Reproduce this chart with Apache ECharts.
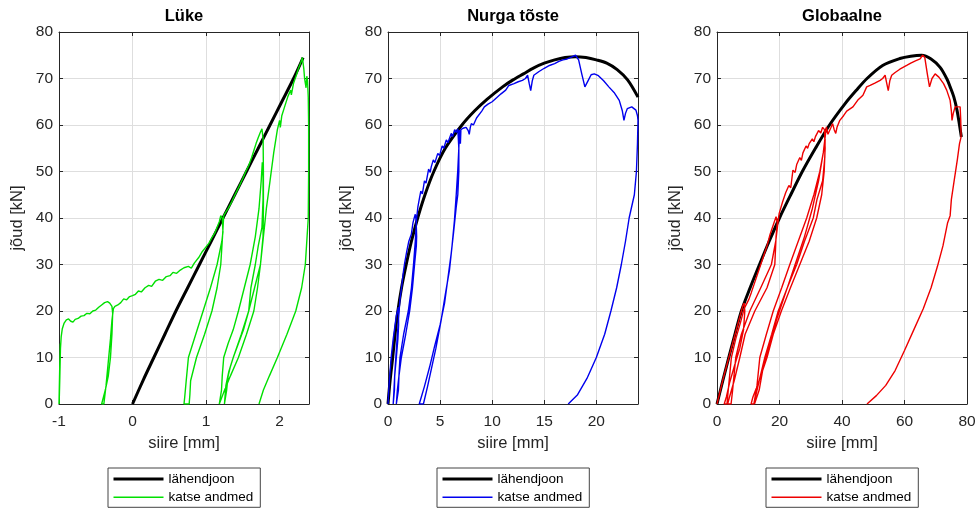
<!DOCTYPE html>
<html>
<head>
<meta charset="utf-8">
<script src="https://cdn.jsdelivr.net/npm/echarts@6/dist/echarts.min.js"></script>
<style>html,body{margin:0;padding:0;background:#fff;}#c{width:979px;height:509px;}</style>
</head>
<body>
<div id="c"></div>
<script>
// ---- Data (x = siire [mm], y = jõud [kN]) ----
const titles = ['Lüke', 'Nurga tõste', 'Globaalne'];
const xTickMin = [-1, 0, 0];
const xTickMax = [2.4, 24, 80];
const xTickStep = [1, 5, 20];
const yTicks = [0, 80, 10];

const lukeFit = [[0,0],[0.15,5.3],[0.29,10],[0.44,15],[0.59,20],[0.75,25],[0.91,30],[1.07,35],[1.23,40],[1.39,45],[1.55,50],[1.71,55],[1.87,60],[2.03,65],[2.19,70],[2.32,74.5]];
const lukeData = [
[-1,0],[-0.99,8],[-0.982,13],[-0.99,6],[-0.998,0],[-0.99,5],[-0.98,12],[-0.97,14.5],[-0.955,16.2],[-0.93,17.4],[-0.9,18.1],[-0.87,18.3],[-0.84,17.8],[-0.81,17.6],[-0.78,18.2],[-0.74,18.4],[-0.7,18.9],[-0.66,19],[-0.62,19.5],[-0.58,19.4],[-0.54,20],[-0.5,20.2],[-0.46,20.8],[-0.42,21.3],[-0.38,21.8],[-0.34,22],[-0.31,21.7],[-0.28,21],
[-0.27,19.5],[-0.28,15],[-0.3,10],[-0.33,6],[-0.37,3],[-0.42,0],
[-0.39,0],[-0.36,4],[-0.33,9],[-0.3,14],[-0.28,18],[-0.26,20.5],[-0.24,21],
[-0.2,21.3],[-0.16,21.8],[-0.12,22.6],[-0.08,22.4],[-0.04,23.1],[0,23.3],[0.04,23.6],[0.08,24.3],[0.12,24.1],[0.17,25],[0.22,25.5],[0.26,25.3],[0.31,26.4],[0.36,26.8],[0.41,26.6],[0.46,27.4],[0.51,27.6],[0.55,28.3],[0.6,28.1],[0.65,28.8],[0.7,29.3],[0.76,29.6],[0.8,29.2],[0.84,30.3],[0.9,31.5],[0.95,32.8],[1.0,33.8],[1.04,34.6],[1.08,35.8],[1.12,36.8],[1.15,38],[1.18,39.2],[1.2,40.5],[1.22,40],
[1.23,37],[1.215,35],[1.15,30],[1.06,25],[0.96,20],[0.86,15],[0.76,10],[0.73,5],[0.71,1.5],[0.70,0],
[0.77,0],[0.78,2],[0.79,5],[0.87,10],[0.98,15],[1.08,20],[1.15,25],[1.2,30],[1.22,35],[1.24,40.5],[1.27,41.3],
[1.3,42],[1.35,43.5],[1.4,45.2],[1.45,46.8],[1.5,48.5],[1.54,50],[1.58,51.3],[1.62,53],[1.65,54.5],[1.68,56],[1.71,57.3],[1.74,58.5],[1.76,59.2],[1.776,57],
[1.78,50],[1.78,42],[1.775,36],[1.74,30],[1.7,25],[1.65,20],[1.55,15],[1.44,10],[1.33,6],[1.24,2.5],[1.18,0],
[1.2,0],[1.21,3],[1.22,6],[1.24,10],[1.3,13],[1.37,16],[1.44,20],[1.52,25],[1.6,30],[1.67,36],[1.72,42],[1.75,48],[1.765,52],[1.775,49],
[1.775,44],[1.76,38],[1.71,34],[1.67,30],[1.61,25],[1.58,20],[1.48,15],[1.37,10],[1.31,7],[1.27,4],[1.25,0],
[1.27,0],[1.28,3],[1.3,6],[1.33,8],[1.37,10],[1.44,13],[1.51,16],[1.58,20],[1.66,25],[1.74,30],[1.78,36],[1.82,42],[1.87,48],[1.92,54],[1.97,59],[2.0,61],[2.01,59.5],[2.03,62],[2.07,64],[2.11,66],[2.15,67.5],[2.16,66.5],[2.19,69],[2.23,70.8],[2.26,72.3],[2.29,73.5],[2.31,74.5],[2.33,72],
[2.34,70],[2.36,68],[2.37,70.5],[2.38,69.5],[2.39,66],[2.395,60],
[2.395,50],[2.39,40],[2.37,35],[2.35,30],[2.3,25],[2.22,20],[2.1,15],[1.97,10],[1.86,6],[1.78,3],[1.72,0]
];

const nurgaFit = [[0,0],[0.2,5],[0.45,10],[0.68,15],[0.95,20],[1.3,25],[1.75,30],[2.25,35],[2.85,40],[3.55,45],[4.4,50],[5.5,55],[7.1,60],[8.3,63],[9.5,65.5],[11,68.2],[12,69.7],[13,71],[14,72.3],[15,73.3],[16,74],[17,74.5],[18,74.7],[19,74.5],[20,74],[21,73.3],[22,71.9],[23,69.7],[24,66]];
const nurgaData = [
[0,0],[0.1,4],[0.3,10],[0.5,14],[0.8,19],[1.0,20.8],[1.05,21],
[1.02,17],[0.95,14],[0.8,10],[0.64,6],[0.55,2],[0.5,0],
[0.6,0],[0.62,3],[0.64,6],[0.75,10],[0.9,15],[1.05,19.5],[1.15,22.5],
[1.3,25],[1.45,28],[1.6,30.3],[1.8,32.8],[2.0,35],[2.24,36.5],[2.4,39],[2.55,40.3],[2.62,40.8],[2.7,39.5],
[2.75,36],[2.72,34],[2.55,30],[2.35,25],[2.08,20],[1.7,15],[1.28,10],[1.05,6],[0.9,3],[0.8,0],
[0.95,0],[1.0,3],[1.05,6],[1.15,10],[1.5,15],[1.95,20],[2.25,25],[2.45,30],[2.62,35],[2.75,40],[2.87,42.4],
[3.0,44],[3.15,45.8],[3.3,45.2],[3.5,48],[3.65,47.5],[3.9,50.5],[4.05,49.8],[4.15,51],[4.35,52.5],[4.5,51.9],[4.78,53.9],[4.95,53.4],[5.2,55.5],[5.35,55],[5.6,56.8],[5.75,56.2],[6.07,58.2],[6.2,57.5],[6.4,59],[6.55,58.4],[6.7,59.2],
[6.8,55],[6.8,50],[6.7,45],[6.55,42.4],[6.3,37],[6.07,32.4],[5.75,27],[5.43,21.7],[5.0,17],[4.47,12.4],[4.0,8],[3.5,3.8],[3.2,1.5],[3.0,0],
[3.4,0],[3.8,3.8],[4.15,7.4],[4.6,12],[5.1,18],[5.5,23.5],[5.9,28.8],[6.15,34],[6.38,39.5],[6.55,45],[6.7,50.3],[6.8,55],[6.86,58.9],[6.95,56],[7.0,59],
[7.2,59.3],[7.5,59.5],[7.7,58.8],[7.8,58],[7.9,59.5],[8.0,60.3],[8.2,60],[8.5,61.5],[9.0,63],[9.25,63.9],[9.6,64.5],[10,65],[10.4,65.8],[10.85,66.7],[11.3,67.5],[11.6,68.5],[12.1,68.9],[12.5,69.3],[12.9,69.6],[13.2,70],[13.4,70.7],[13.55,69],[13.7,67.4],[13.85,69.5],[14.0,70.7],[14.5,71.5],[15.0,72.2],[15.5,72.8],[16.0,73.2],[16.4,73.7],[16.8,74],[17.2,74.2],[17.6,74.6],[18.0,75],[18.3,74],[18.6,71],[18.9,68.2],[19.2,69.5],[19.5,70.8],[19.8,71],[20.2,70.6],[20.7,69.5],[21.2,68.2],[21.7,67],[22.2,65.3],[22.5,63],[22.65,61],[22.8,62.5],[22.97,63.5],[23.4,63.9],[23.8,63.2],[23.95,62],[24.0,61],
[23.95,56],[23.85,50],[23.65,45],[23.15,40],[22.8,35],[22.4,30],[21.95,25],[21.4,20],[20.8,15],[20.0,10],[19.1,5.5],[18.2,2],[17.3,0]
];

const globFit = [[0,0],[2,5.4],[4,10.6],[5.9,15.4],[7.8,20],[10.6,25],[13.6,30],[16.7,35],[20,40],[23.6,45],[27.3,50],[31.5,55],[36,60],[41,64.6],[44.5,67.4],[48,70],[53,72.8],[58.5,74.3],[62,74.8],[65.5,75],[68.5,74.2],[71.4,72.4],[73.5,70],[74.6,68.2],[75.8,66],[76.8,63.2],[77.6,60],[78.2,57.4]];
const globData = [
[0,0],[1,2.8],[2,5.5],[3,8],[4,10.5],[5,13],[6,15.5],[7,18],[7.8,20],[8.3,21.2],[8.7,21.7],[8.9,20],
[8.5,16],[7.3,12],[5.5,8],[4,4.5],[3,1.5],[2.3,0],
[3.2,0],[3.6,3],[4.6,10],[6,14],[7.5,17.5],[8.7,20.5],[10.2,22.5],
[11,24],[12,26],[13,28],[14,30],[15,32],[16,34],[17,36.5],[18,38.5],[18.9,40.3],[19.3,39],
[18.9,36],[18.5,30],[16,25],[12.1,20],[9,15],[7.3,10],[5.5,5],[4,1.5],[3.4,0],
[4.5,0],[5,3],[6,10],[7.8,15],[10.5,20],[14,25],[17.4,30],[18.8,35],[19.5,39],[19.9,41],
[21,43.5],[22,45.5],[23,47],[23.6,46.5],[24.3,50.3],[25,49.8],[25.5,51.5],[26.5,53],[27,52.4],[27.5,54],[28.5,55.5],[29,55],[29.5,56],[30.5,57],[31,56.4],[31.5,57.5],[32.5,58.8],[33.2,58.3],[33.8,59.5],[34.4,59],
[34.6,55],[34.3,50],[33.5,45],[31.9,40],[29.5,35],[26.5,30],[23.5,25],[20.6,20],[18,15],[16,10],[13.5,5],[11.5,1.5],[10.9,0],
[11.8,0],[12.8,4],[13.7,10],[15.8,15],[18,20],[20.7,25],[23.3,30],[26,35],[28.7,40],[31,45],[32.9,50],[34,54],[34.6,57],
[34.5,53],[33.8,48],[32,44],[30.8,40],[28,35],[25.5,30],[22.5,25],[19.6,20],[17.5,15],[15.3,10],[13.5,5],[12.3,1.5],[12,0],
[12.6,0],[13.5,3],[14.8,8],[16.5,12],[19,18],[22,24],[25,30],[28,36],[30.5,42],[32.5,48],[34,54],[35,59.6],[35.5,58],[36.5,59.5],
[37,60.3],[37.5,59],[38,58.2],[38.4,59.5],[39.3,61],[40.5,62],[41.5,63],[43.5,63.9],[45,65.3],[46.7,66.4],[47.9,68.2],[49,68.5],[50.5,69],[52.2,69.6],[53,70],[53.8,70.7],[54.3,69],[54.8,67.4],[55.3,69.5],[55.9,70.7],[57,71.3],[58.5,72],[60.7,72.8],[62,73.3],[63.5,73.8],[65,74.2],[65.8,75],[66.5,74.5],[67.3,71],[68,68.2],[68.8,70],[69.8,71],[71,70.3],[72.5,68.9],[73.5,67.5],[74.6,65.3],[75,63],[75.2,61],[75.6,62.5],[76.2,63.9],[77.8,63.9],[78.0,61],[78.1,57.4],
[77.6,56],[76.9,52.5],[76,48.5],[75,44],[74.6,40.5],[73.8,39],[72.3,34],[70.5,29.5],[68.5,25],[66,20.5],[63,16],[60,11.5],[57,7.2],[54,4],[51,1.8],[48,0]
];

const fitSets = [lukeFit, nurgaFit, globFit];
const dataSets = [lukeData, nurgaData, globData];
const dataColors = ['#00e000', '#0000ee', '#ee0000'];
const legendNames = ['lähendjoon', 'katse andmed'];
const xName = 'siire [mm]';
const yName = 'jõud [kN]';

// ---- Layout / style ----
const FONT = 'Liberation Sans, Arial, Helvetica, sans-serif';
const AX = '#262626';
const gridLefts = [59, 388, 717];
const gridW = 250, gridTop = 32, gridH = 372;
const legendLefts = [108, 437, 766];

const grids = [], xAxes = [], yAxes = [], series = [], legends = [], graphics = [];
for (let i = 0; i < 3; i++) {
  grids.push({left: gridLefts[i], top: gridTop, width: gridW, height: gridH, show: false, containLabel: false});
}
for (let i = 0; i < 3; i++) {
  xAxes.push({
    type: 'value', gridIndex: i, position: 'bottom',
    min: xTickMin[i], max: xTickMax[i], interval: xTickStep[i],
    name: xName, nameLocation: 'middle', nameGap: 30,
    nameTextStyle: {fontFamily: FONT, fontSize: 16.5, color: AX},
    axisLine: {show: true, onZero: false, lineStyle: {color: AX, width: 1}},
    axisTick: {show: true, inside: true, length: 4, lineStyle: {color: AX}},
    axisLabel: {show: true, margin: 10, fontFamily: FONT, fontSize: 15.5, color: AX,
      showMinLabel: true, showMaxLabel: i === 2},
    splitLine: {show: true, lineStyle: {color: '#dedede', width: 1}}
  });
  yAxes.push({
    type: 'value', gridIndex: i, position: 'left',
    min: yTicks[0], max: yTicks[1], interval: yTicks[2],
    name: yName, nameLocation: 'middle', nameGap: 33,
    nameTextStyle: {fontFamily: FONT, fontSize: 16.5, color: AX},
    axisLine: {show: true, onZero: false, lineStyle: {color: AX, width: 1}},
    axisTick: {show: true, inside: true, length: 4, lineStyle: {color: AX}},
    axisLabel: {show: true, margin: 6, fontFamily: FONT, fontSize: 15.5, color: AX},
    splitLine: {show: true, lineStyle: {color: '#dedede', width: 1}}
  });
}
for (let i = 0; i < 3; i++) {
  xAxes.push({
    type: 'value', gridIndex: i, position: 'top',
    min: xTickMin[i], max: xTickMax[i], interval: xTickStep[i],
    axisLine: {show: true, onZero: false, lineStyle: {color: AX, width: 1}},
    axisTick: {show: true, inside: true, length: 4, lineStyle: {color: AX}},
    axisLabel: {show: false}, splitLine: {show: false}
  });
  yAxes.push({
    type: 'value', gridIndex: i, position: 'right',
    min: yTicks[0], max: yTicks[1], interval: yTicks[2],
    axisLine: {show: true, onZero: false, lineStyle: {color: AX, width: 1}},
    axisTick: {show: true, inside: true, length: 4, lineStyle: {color: AX}},
    axisLabel: {show: false}, splitLine: {show: false}
  });
}
for (let i = 0; i < 3; i++) {
  series.push({
    name: legendNames[0], type: 'line', xAxisIndex: i, yAxisIndex: i,
    data: fitSets[i], symbol: 'none', smooth: 0.3, clip: true,
    lineStyle: {color: '#000', width: 3}, itemStyle: {color: '#000'}, z: 2
  });
  series.push({
    name: legendNames[1], type: 'line', xAxisIndex: i, yAxisIndex: i,
    data: dataSets[i], symbol: 'none', smooth: false, clip: true,
    lineStyle: {color: dataColors[i], width: 1.4}, itemStyle: {color: dataColors[i]}, z: 3
  });
  legends.push({
    left: legendLefts[i], top: 468, orient: 'vertical',
    itemWidth: 50, itemHeight: 14, itemGap: 4.3, padding: [4, 7, 3, 4],
    borderColor: '#444', borderWidth: 1, backgroundColor: '#fff',
    selectedMode: false,
    textStyle: {fontFamily: FONT, fontSize: 13.5, color: '#000'},
    data: [
      {name: legendNames[0], lineStyle: {color: '#000', width: 3}, itemStyle: {color: '#000', opacity: 0, borderWidth: 0}},
      {name: legendNames[1], lineStyle: {color: dataColors[i], width: 1.4}, itemStyle: {color: dataColors[i], opacity: 0, borderWidth: 0}}
    ]
  });
  graphics.push({
    type: 'text', x: gridLefts[i] + gridW / 2, y: 16.5,
    style: {text: titles[i], textAlign: 'center', textVerticalAlign: 'middle',
      font: 'bold 16.5px ' + FONT, fill: '#000'}
  });
}

const chart = echarts.init(document.getElementById('c'), null, {renderer: 'canvas'});
chart.setOption({
  animation: false,
  backgroundColor: '#fff',
  grid: grids, xAxis: xAxes, yAxis: yAxes, series: series,
  legend: legends, graphic: graphics
});
</script>
</body>
</html>
